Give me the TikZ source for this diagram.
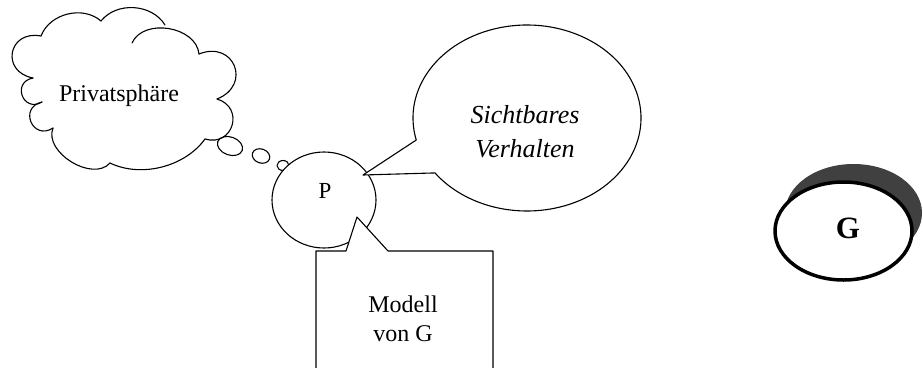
\documentclass[tikz,border=0pt]{standalone}
\usepackage{fontspec}
\setmainfont{Liberation Serif}
\usetikzlibrary{calc}
\begin{document}
\begin{tikzpicture}[x=1pt,y=-1pt,line join=round,line cap=round,
  thinline/.style={line width=1.1pt},
  puff/.style={thinline},
  lbl/.style={inner sep=0pt,anchor=base,align=center}]
\useasboundingbox (0,0) rectangle (923,367);

% ---------- cloud "Privatsphaere"
\coordinate (c1) at (33,78);
\coordinate (c2) at (41,36);
\coordinate (c3) at (101,21);
\coordinate (c4) at (165,25);
\coordinate (c5) at (132,43);
\coordinate (c6) at (199,54);
\coordinate (c7) at (217,99);
\coordinate (c8) at (205,139);
\coordinate (c9) at (110,163);
\coordinate (c10) at (53,128);
\coordinate (c11) at (42,102);
\draw[puff] (c1) to[bend left=90,looseness=2.0] (c2);
\draw[puff] (c2) to[bend left=55,looseness=1.0] (c3);
\draw[puff] (c3) to[bend left=55,looseness=1.0] (c4);
\draw[puff] (c5) to[bend left=75,looseness=1.05] (c6);
\draw[puff] (c6) to[bend left=90,looseness=2.0] (c7);
\draw[puff] (c7) to[bend left=90,looseness=1.8] (c8);
\draw[puff] (c8) to[bend left=40,looseness=0.9] (c9);
\draw[puff] (c9) to[bend left=80,looseness=1.0] (c10);
\draw[puff] (c10) to[bend left=100,looseness=2.2] (c11);
\draw[puff] (c11) to[bend left=100,looseness=2.2] (c1);
\node[lbl,font=\fontsize{24}{28}\selectfont] (priv) at (119,101) {Privatsphäre};

% thought bubbles
\coordinate (b1) at (230,146);
\coordinate (b2) at (261,156);
\coordinate (b3) at (283,165.5);
\draw[thinline,rotate around={-20:(b1)}] (b1) ellipse[x radius=13,y radius=9];
\draw[thinline,rotate around={-20:(b2)}] (b2) ellipse[x radius=9,y radius=7];
\draw[thinline] (b3) ellipse[x radius=6,y radius=5];

% ---------- person P
\coordinate (pc) at (324,200);
\draw[thinline,fill=white] (pc) ellipse[x radius=52,y radius=48];
\node[lbl,font=\fontsize{23}{27}\selectfont] (p) at (325,198) {P};

% ---------- speech balloon
\coordinate (sc) at (527,118);
\coordinate (stip) at (363,175);
\draw[thinline,fill=white] (stip) -- ($(sc)+({114*cos(166.3)},{93*sin(166.3)})$)
   arc[start angle=166.3,end angle=503.8,x radius=114,y radius=93] -- cycle;
\node[lbl,font=\itshape\fontsize{26}{34}\selectfont] (sv) at (525,157) {Sichtbares\\Verhalten};

% ---------- model box with pointer
\coordinate (mtl) at (316,251);
\coordinate (mtr) at (493,251);
\coordinate (mp1) at (346,251);
\coordinate (mtip) at (357,217);
\coordinate (mp2) at (388,251);
\draw[thinline,fill=white] (316,372) -- (mtl) -- (mp1) -- (mtip) -- (mp2) -- (mtr) -- (493,372);
\node[lbl,font=\fontsize{24}{29}\selectfont] (mod) at (403,341) {Modell\\von G};

% ---------- G
\coordinate (gc) at (843.5,231);
\fill[black!75] ($(gc)+(10,-18)$) ellipse[x radius=68.5,y radius=49];
\draw[line width=3.5pt,fill=white] (gc) ellipse[x radius=68.5,y radius=49];
\node[lbl,font=\bfseries\fontsize{31}{36}\selectfont] (g) at (848,238) {G};
\end{tikzpicture}
\end{document}
